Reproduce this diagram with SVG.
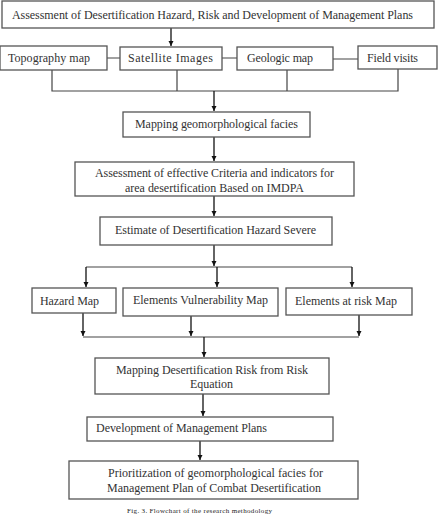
<svg xmlns="http://www.w3.org/2000/svg" width="443" height="517" viewBox="0 0 443 517">
<defs>
<marker id="ah" viewBox="0 0 10 10" refX="10" refY="5" markerWidth="5" markerHeight="6" orient="auto" markerUnits="userSpaceOnUse">
<path d="M0,0 L10,5 L0,10 z" fill="#111"/>
</marker>
<style>
rect{fill:#fff;stroke:#555;stroke-width:1.3}
text{font-family:"Liberation Serif","Times New Roman",serif;font-size:12px;fill:#333}
.ln{fill:none;stroke:#444;stroke-width:1.2}
.ar{fill:none;stroke:#111;stroke-width:1.3;marker-end:url(#ah)}
.cap{font-size:7px;fill:#222}
</style>
</defs>
<rect x="0" y="0" width="443" height="517" style="fill:#fff;stroke:none"/>
<g id="connectors">
<path class="ar" d="M171,28 V46"/>
<path class="ln" d="M107,58 H120 M222,58 H237 M333,59 H358"/>
<path class="ln" d="M52,70 V91 H398 V69 M177,70 V91 M287,70 V91"/>
<path class="ar" d="M214,91 V111"/>
<path class="ar" d="M214,137 V161"/>
<path class="ar" d="M214,196 V216"/>
<path class="ar" d="M214,245 V266"/>
<path class="ln" d="M86,267 H352"/>
<path class="ar" d="M86,267 V287"/>
<path class="ar" d="M217,267 V287"/>
<path class="ar" d="M352,267 V287"/>
<path class="ar" d="M83,313 V336"/>
<path class="ar" d="M191,316 V336"/>
<path class="ar" d="M359,315 V336"/>
<path class="ln" d="M83,337 H359"/>
<path class="ar" d="M204,337 V357"/>
<path class="ar" d="M203,394 V416"/>
<path class="ar" d="M200,441 V460"/>
</g>
<g id="n-top"><rect x="2" y="1" width="432" height="27"/><text x="12" y="19" textLength="401">Assessment of Desertification Hazard, Risk and Development of Management Plans</text></g>
<g id="n-topo"><rect x="0" y="46" width="107" height="24"/><text x="8" y="62" textLength="82">Topography map</text></g>
<g id="n-sat"><rect x="120" y="47" width="102" height="23"/><text x="128" y="62" textLength="85">Satellite Images</text></g>
<g id="n-geo"><rect x="237" y="47" width="96" height="23"/><text x="247" y="62" textLength="66">Geologic map</text></g>
<g id="n-field"><rect x="358" y="46" width="79" height="23"/><text x="367" y="62" textLength="51">Field visits</text></g>
<g id="n-facies"><rect x="123" y="112" width="187" height="25"/><text x="135" y="128" textLength="163">Mapping geomorphological facies</text></g>
<g id="n-criteria"><rect x="75" y="162" width="279" height="34"/><text x="95" y="177" textLength="239">Assessment of effective Criteria and indicators for</text><text x="125" y="192" textLength="179">area desertification Based on IMDPA</text></g>
<g id="n-estimate"><rect x="100" y="217" width="232" height="28"/><text x="115" y="234" textLength="201">Estimate of Desertification Hazard Severe</text></g>
<g id="n-hazard"><rect x="32" y="288" width="84" height="25"/><text x="40" y="305" textLength="59">Hazard Map</text></g>
<g id="n-vuln"><rect x="123" y="288" width="155" height="28"/><text x="133" y="304" textLength="135">Elements Vulnerability Map</text></g>
<g id="n-risk"><rect x="286" y="288" width="126" height="27"/><text x="295" y="305" textLength="102">Elements at risk Map</text></g>
<g id="n-riskmap"><rect x="95" y="358" width="234" height="36"/><text x="116" y="374" textLength="192">Mapping Desertification Risk from Risk</text><text x="190" y="388" textLength="43">Equation</text></g>
<g id="n-dev"><rect x="87" y="417" width="246" height="24"/><text x="96" y="432" textLength="171">Development of Management Plans</text></g>
<g id="n-prior"><rect x="69" y="461" width="289" height="38"/><text x="108" y="477" textLength="215">Prioritization of geomorphological facies for</text><text x="107" y="492" textLength="214">Management Plan of Combat Desertification</text></g>
<text class="cap" x="127" y="513" textLength="145">Fig. 3. Flowchart of  the research methodology</text>
</svg>
